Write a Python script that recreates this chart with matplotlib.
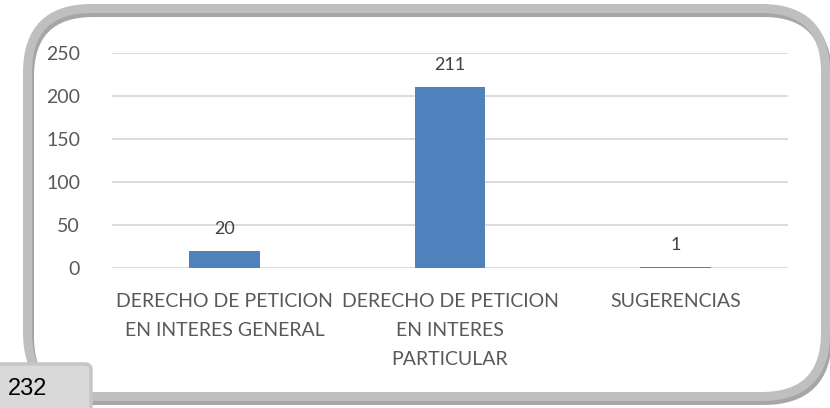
import matplotlib
matplotlib.use("Agg")
import matplotlib.pyplot as plt
from matplotlib.patches import FancyBboxPatch

categories = ["DERECHO DE PETICION\nEN INTERES GENERAL",
              "DERECHO DE PETICION\nEN INTERES\nPARTICULAR",
              "SUGERENCIAS"]
values = [20, 211, 1]
yticks = [0, 50, 100, 150, 200, 250]
total_label = "232"

W, H = 830, 408
fig = plt.figure(figsize=(W / 100, H / 100), dpi=100)
fig.patch.set_facecolor("white")

def fx(px):
    return px / W

def fy(py):
    return 1 - py / H

# outer rounded border with shadow
r = 64
lw = 9 * 72 / 100
for dx, dy, col in [(2, 4, "#a6a6a6"), (0, 0, "#bfbfbf")]:
    x0, y0, x1, y1 = 27.5 + dx, 8.5 + dy, 825.5 + dx, 396.5 + dy
    p = FancyBboxPatch((x0 + r, H - (y1 - r)), (x1 - x0) - 2 * r, (y1 - y0) - 2 * r,
                       boxstyle=f"round,pad={r}", transform=None,
                       facecolor="none", edgecolor=col, linewidth=lw)
    fig.patches.append(p)
    p.set_figure(fig)

ax = fig.add_axes([fx(112), fy(268), fx(788) - fx(112), fy(53) - fy(268)])
ax.set_facecolor("none")
x = list(range(len(categories)))
ax.bar(x, values, width=0.315, color="#4f81bd", zorder=3)
ax.set_xlim(-0.5, len(categories) - 0.5)
ax.set_ylim(0, 250)
ax.set_yticks(yticks)
ax.yaxis.grid(True, color="#d9d9d9", linewidth=1.3, zorder=0)
ax.set_axisbelow(True)
for s in ax.spines.values():
    s.set_visible(False)
ax.tick_params(axis="both", length=0, colors="#595959", labelsize=14)
ax.tick_params(axis="y", pad=23)
ax.tick_params(axis="x", pad=18)
ax.set_xticks(x)
ax.set_xticklabels(categories, linespacing=1.85)
for lbl in ax.get_yticklabels() + ax.get_xticklabels():
    lbl.set_fontfamily("Lato")
    lbl.set_color("#595959")

for xi, v in zip(x, values):
    ax.annotate(str(v), (xi, v), xytext=(0, 10), textcoords="offset points",
                ha="center", va="bottom", fontsize=13, color="#404040",
                family="Lato")

# bottom-left total box
box = FancyBboxPatch((-10, -10), 101, 54,
                     boxstyle="round,pad=0,rounding_size=6", transform=None,
                     facecolor="#d9d9d9", edgecolor="#c6c6c6", linewidth=2.5)
fig.patches.append(box)
box.set_figure(fig)
fig.text(fx(8), fy(389), total_label, ha="left", va="center", fontsize=17,
         color="black", family="Liberation Sans")

fig.savefig("out.png", dpi=100, facecolor="white")
